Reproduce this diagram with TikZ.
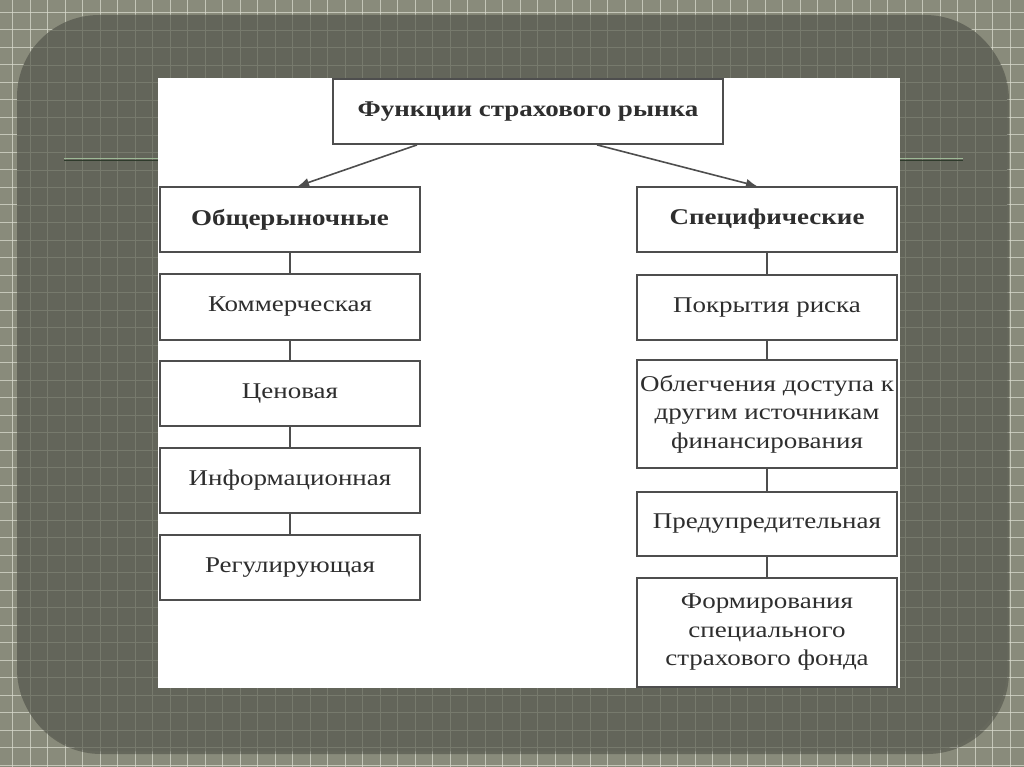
\documentclass[tikz,border=0pt]{standalone}
\usepackage{fontspec}
\setmainfont[FakeStretch=1.2]{Liberation Serif}
\usetikzlibrary{arrows.meta}
\definecolor{bgout}{HTML}{898B7B}
\definecolor{gridout}{HTML}{D9DACD}
\definecolor{panel}{HTML}{63655A}
\definecolor{gridin}{HTML}{777A6D}
\definecolor{rulegreen}{HTML}{2E3A2B}
\definecolor{rulelight}{HTML}{9DB996}
\definecolor{boxline}{HTML}{4E4E4E}
\definecolor{txt}{HTML}{2E2E2E}
\tikzset{
  fbox/.style={draw=boxline, line width=1.8pt, fill=white, rectangle, minimum width=260pt, inner sep=2pt, align=center, text=txt, font=\fontsize{22.5}{28.5}\selectfont},
  hbox/.style={fbox, font=\fontsize{22.5}{28.5}\selectfont\bfseries},
  link/.style={draw=boxline, line width=1.6pt},
  arr/.style={draw=boxline, line width=1.6pt, -{Latex[length=11pt,width=9pt]}}
}
\begin{document}
\begin{tikzpicture}[x=1pt,y=-1pt]
\useasboundingbox (0,0) rectangle (1024,767);
% outer background with grid
\fill[bgout] (0,0) rectangle (1024,767);
\foreach \i in {0,...,58} {
  \draw[gridout, line width=1pt, opacity=0.75] (12.5+17.5*\i,0) -- (12.5+17.5*\i,767);
}
\foreach \j in {0,...,44} {
  \draw[gridout, line width=1pt, opacity=0.75] (0,12.5+17.5*\j) -- (1024,12.5+17.5*\j);
}
% panel
\fill[black, opacity=0.25] (19,18) [rounded corners=82pt] rectangle (1009,754);
\fill[panel, rounded corners=82pt] (17,15) rectangle (1007,751);
\begin{scope}
  \clip[rounded corners=82pt] (17,15) rectangle (1007,751);
  \foreach \i in {0,...,58} {
    \draw[gridin, line width=0.9pt] (12.5+17.5*\i,0) -- (12.5+17.5*\i,767);
  }
  \foreach \j in {0,...,44} {
    \draw[gridin, line width=0.9pt] (0,12.5+17.5*\j) -- (1024,12.5+17.5*\j);
  }
\end{scope}
% horizontal rule
\draw[rulelight, line width=1pt] (64,158.5) -- (963,158.5);
\draw[rulegreen, line width=1.6pt] (64,160.5) -- (963,160.5);
% white image area
\fill[white] (158,78) rectangle (900,688);
% nodes
\node[hbox, minimum width=390pt, minimum height=65pt] (top) at (528,111.5) {Функции страхового рынка};
\node[hbox, minimum height=65pt] (gen) at (290,219.5) {Общерыночные};
\node[fbox, minimum height=66pt] (l1) at (290,307) {Коммерческая};
\node[fbox, minimum height=65pt] (l2) at (290,393.5) {Ценовая};
\node[fbox, minimum height=65pt] (l3) at (290,480.5) {Информационная};
\node[fbox, minimum height=65pt] (l4) at (290,567.5) {Регулирующая};
\node[hbox, minimum height=65pt] (spec) at (767,219.5) {Специфические};
\node[fbox, minimum height=65pt] (r1) at (767,307.5) {Покрытия риска};
\node[fbox, minimum height=108pt] (r2) at (767,414) {Облегчения доступа к\\другим источникам\\финансирования};
\node[fbox, minimum height=64pt] (r3) at (767,524) {Предупредительная};
\node[fbox, minimum height=109pt] (r4) at (767,632.5) {Формирования\\специального\\страхового фонда};
% connectors
\coordinate (tl) at ([xshift=-111pt]top.south);
\coordinate (tr) at ([xshift=69pt]top.south);
\coordinate (gl) at ([xshift=8pt]gen.north);
\coordinate (sr) at ([xshift=-10pt]spec.north);
\draw[arr] (tl) -- (gl);
\draw[arr] (tr) -- (sr);
\draw[link] (gen) -- (l1);
\draw[link] (l1) -- (l2);
\draw[link] (l2) -- (l3);
\draw[link] (l3) -- (l4);
\draw[link] (spec) -- (r1);
\draw[link] (r1) -- (r2);
\draw[link] (r2) -- (r3);
\draw[link] (r3) -- (r4);
\end{tikzpicture}
\end{document}
